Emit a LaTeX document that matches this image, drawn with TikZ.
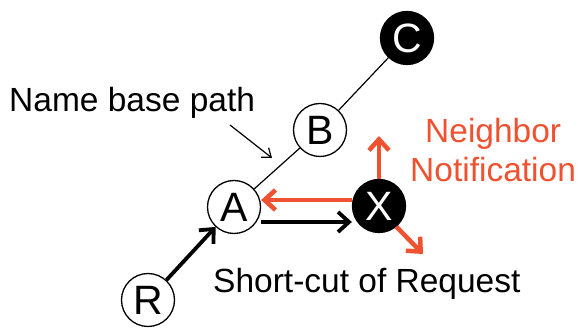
\documentclass[tikz,border=0pt]{standalone}
\usepackage{fontspec}
\setmainfont{Liberation Sans}
\usetikzlibrary{arrows.meta}
\definecolor{notered}{RGB}{238,82,48}
\begin{document}
\begin{tikzpicture}[x=1pt,y=-1pt,
  peer/.style={circle,draw,line width=1.3pt,minimum size=53pt,inner sep=0pt,font=\fontsize{41}{41}\selectfont},
  hub/.style={peer,fill=black,text=white},
  label/.style={anchor=base west,inner sep=0pt,font=\fontsize{33.5}{33.5}\selectfont},
  req/.style={line width=3.8pt,-{Straight Barb[length=11pt,width=20pt,line width=3.8pt]}},
  notify/.style={notered,line width=4.5pt,-{Straight Barb[length=11pt,width=20pt,line width=4.5pt]}},
  path/.style={line width=1.2pt}]
\useasboundingbox (0,0) rectangle (582,328);
% nodes along the name base path
\node[hub]  (C) at (407,38)  {C};
\node[peer] (B) at (320,130) {B};
\node[peer] (A) at (234,207) {A};
\node[hub]  (X) at (379,206) {X};
\node[peer] (R) at (148,300) {R};
% name base path
\draw[path] (C) -- (B);
\draw[path] (B) -- (A);
% labels
\node[label] (nbp) at (9,112) {Name base path};
\node[label,text=notered] (nb1) at (425,143) {Neighbor};
\node[label,text=notered] (nb2) at (410,182) {Notification};
\node[label] (scr) at (213,293) {Short-cut of Request};
\coordinate (ptr) at (272,158);
\draw[line width=1.2pt,-{Straight Barb[length=8pt,width=12pt]}] (230,125) -- (ptr);
% request and its short-cut
\draw[req] (R) -- (A);
\draw[req] (A.east |- 0,222) -- (X.west |- 0,222);
% neighbor notification
\draw[notify] (X.west |- 0,200) -- (A.east |- 0,200);
\coordinate (up) at (379,136);
\draw[notify] (X.north) -- (up);
\coordinate (dn) at (423,254);
\draw[notify] (X.-50) -- (dn);
\end{tikzpicture}
\end{document}
